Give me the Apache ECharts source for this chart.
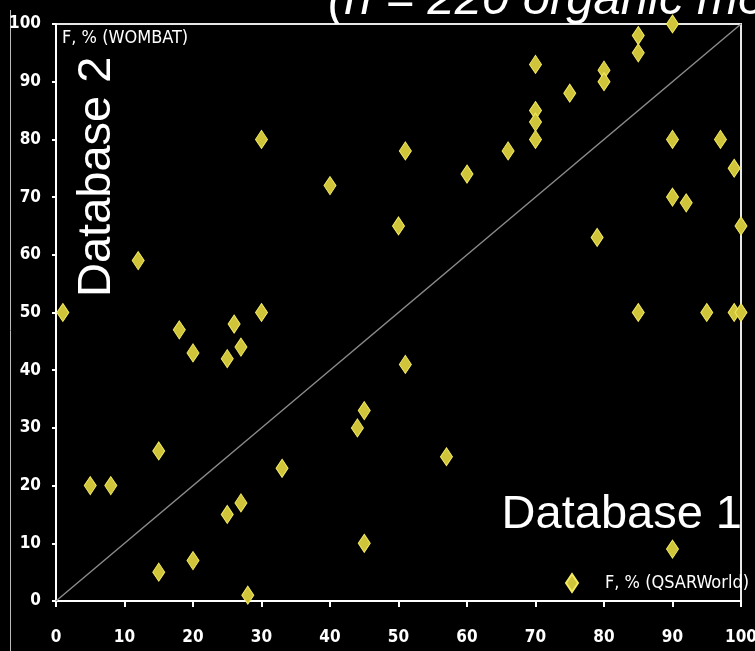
<!DOCTYPE html>
<html>
<head>
<meta charset="utf-8">
<script src="https://cdn.jsdelivr.net/npm/echarts@6/dist/echarts.min.js"></script>
<style>
html,body{margin:0;padding:0;background:#000;}
#chart{width:755px;height:651px;}
</style>
</head>
<body>
<div id="chart"></div>
<script>
// Data
var qsarWorldF = [1,5,8,12,15,15,18,20,20,25,25,26,27,27,28,30,30,33,40,44,45,45,50,51,51,57,60,66,70,70,70,70,75,79,80,80,85,85,85,90,90,90,90,92,95,97,99,99,100,100];
var wombatF    = [50,20,20,59,26,5,47,43,7,42,15,48,44,17,1,80,50,23,72,30,33,10,65,78,41,25,74,78,93,85,83,80,88,63,92,90,98,95,50,100,80,70,9,69,50,80,75,50,65,50];
var diagX = [0,100];
var diagY = [0,100];
var xTicks = [0,10,20,30,40,50,60,70,80,90,100];
var yTicks = [0,10,20,30,40,50,60,70,80,90,100];
var seriesName = 'F, % (QSARWorld)';
var yAxisName = 'F, % (WOMBAT)';
var titleText = '(n = 220 organic molecules)';
var label1 = 'Database 1';
var label2 = 'Database 2';

var points = qsarWorldF.map(function(x,i){return [x, wombatF[i]];});
var diag = diagX.map(function(x,i){return [x, diagY[i]];});

var chart = echarts.init(document.getElementById('chart'), null, {renderer:'canvas'});
var tickFont = {color:'#ffffff', fontFamily:'Liberation Sans Narrow, DejaVu Sans Condensed, sans-serif', fontSize:17, fontWeight:'bold'};

chart.setOption({
  backgroundColor:'#000000',
  animation:false,
  grid:{left:56, right:14, top:24, bottom:50, outerBoundsMode:'none', containLabel:false, show:true, borderColor:'#e6e6e6', borderWidth:2, backgroundColor:'#000'},
  xAxis:{
    type:'value', min:0, max:100, interval:10,
    axisLine:{show:true, onZero:false, lineStyle:{color:'#ffffff', width:2}},
    axisTick:{show:true, inside:false, length:6, lineStyle:{color:'#ffffff', width:2}},
    splitLine:{show:false},
    axisLabel:Object.assign({margin:28, formatter:function(v){return xTicks.indexOf(v)>=0?String(v):'';}}, tickFont)
  },
  yAxis:{
    type:'value', min:0, max:100, interval:10,
    axisLine:{show:true, onZero:false, lineStyle:{color:'#ffffff', width:2}},
    axisTick:{show:true, inside:false, length:4, lineStyle:{color:'#ffffff', width:2}},
    splitLine:{show:false},
    axisLabel:Object.assign({margin:15, formatter:function(v){return yTicks.indexOf(v)>=0?String(v):'';}}, tickFont)
  },
  legend:{
    show:true, left:565, top:573, orient:'horizontal', padding:0,
    data:[{name:seriesName, icon:'diamond'}],
    itemWidth:12, itemHeight:18,
    textStyle:{color:'#ffffff', fontFamily:'Liberation Sans Narrow, DejaVu Sans Condensed, sans-serif', fontSize:18, padding:[0,0,0,22]}
  },
  series:[
    {
      type:'line', data:diag, symbol:'none', silent:true,
      lineStyle:{color:'#8a8a8a', width:1.5}, z:1
    },
    {
      name:seriesName, type:'scatter', data:points,
      symbol:'diamond', symbolSize:[12,18],
      itemStyle:{color:'#cfc43a', borderColor:'#f3ea62', borderWidth:1, opacity:1},
      z:3
    }
  ],
  graphic:[
    {type:'line', shape:{x1:10.5, y1:10, x2:10.5, y2:651}, style:{stroke:'#bbbbbb', lineWidth:1}, silent:true},
    {type:'text', x:328, y:0, style:{text:titleText, fill:'#ffffff', font:'italic 49px "Liberation Sans", Arial, sans-serif', textAlign:'left', textVerticalAlign:'middle'}, z:10},
    {type:'text', x:62, y:38, style:{text:yAxisName, fill:'#ffffff', font:'18px "Liberation Sans Narrow", "DejaVu Sans Condensed", sans-serif', textAlign:'left', textVerticalAlign:'middle'}, z:10},
    {type:'text', x:742, y:515, style:{text:label1, fill:'#ffffff', font:'47px "Liberation Sans", Arial, sans-serif', textAlign:'right', textVerticalAlign:'middle'}, z:10},
    {type:'text', x:97, y:297, rotation:Math.PI/2, style:{text:label2, fill:'#ffffff', font:'47px "Liberation Sans", Arial, sans-serif', textAlign:'left', textVerticalAlign:'middle'}, z:10}
  ]
});
</script>
</body>
</html>
